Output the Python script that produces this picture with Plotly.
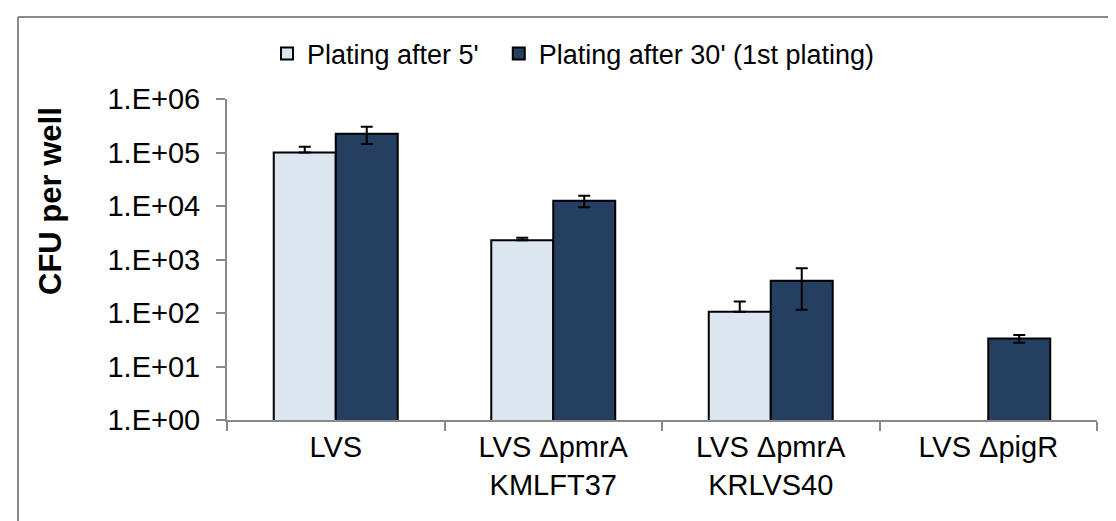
import plotly.graph_objects as go

categories = ["LVS", "LVS \u0394pmrA<br>KMLFT37", "LVS \u0394pmrA<br>KRLVS40", "LVS \u0394pigR"]
series_names = ["Plating after 5'\u00a0\u00a0", "Plating after 30' (1st plating)"]
after5 = [100000, 2300, 105, None]
after5_err_plus = [28000, 240, 59, None]
after30 = [224000, 12500, 400, 33.3]
after30_err = [80000, 3000, 285, 5.5]
tick_values = [1, 10, 100, 1000, 10000, 100000, 1000000]
tick_labels = ["1.E+00", "1.E+01", "1.E+02", "1.E+03", "1.E+04", "1.E+05", "1.E+06"]

FONT = "Liberation Sans, Arial, sans-serif"
GREY = "#898989"

fig = go.Figure()
fig.add_trace(go.Bar(
    x=categories, y=after5, name=series_names[0],
    marker=dict(color="#DCE6F1", line=dict(color="black", width=2)),
    error_y=dict(type="data", array=after5_err_plus,
                 arrayminus=[0, 0, 0, 0], symmetric=False,
                 color="black", thickness=2, width=6),
))
fig.add_trace(go.Bar(
    x=categories, y=after30, name=series_names[1],
    marker=dict(color="#243F60", line=dict(color="black", width=2)),
    error_y=dict(type="data", array=after30_err, symmetric=True,
                 color="black", thickness=2, width=6),
))

L, R, T, B = 219, 27, 91, 109
W, H = 1116, 521
PW, PH = W - L - R, H - T - B

def px(x):
    return (x - L) / PW

def py(y):
    return (H - B - y) / PH

fig.update_layout(
    width=W, height=H,
    margin=dict(l=L, r=R, t=T, b=B),
    paper_bgcolor="white", plot_bgcolor="white",
    barmode="group", bargap=0.43, bargroupgap=0,
    font=dict(family=FONT, size=27, color="black"),
    legend=dict(orientation="h", x=px(259), xanchor="left", y=py(46), yanchor="middle",
                font=dict(size=27, family=FONT), bgcolor="rgba(0,0,0,0)",
                traceorder="normal"),
    xaxis=dict(showline=True, linecolor=GREY, linewidth=2,
               ticks="outside", ticklen=9, tickcolor=GREY, tickwidth=2,
               tickson="boundaries", tickfont=dict(size=29, family=FONT),
               showgrid=False),
    yaxis=dict(type="log", range=[0, 6], showline=True, linecolor=GREY, linewidth=2,
               ticks="outside", ticklen=9, tickcolor=GREY, tickwidth=2,
               tickvals=tick_values, ticktext=tick_labels, ticklabelstandoff=10,
               tickfont=dict(size=29, family=FONT), showgrid=False,
               zeroline=False),
    showlegend=True,
)

fig.add_annotation(text="<b>CFU per well</b>", textangle=-90,
                   xref="paper", yref="paper", x=px(42), y=py(193),
                   xanchor="center", yanchor="middle", showarrow=False,
                   font=dict(size=31, family=FONT, color="black"))

# chart frame (top and left edges visible)
fig.add_shape(type="line", xref="paper", yref="paper",
              x0=px(10), x1=px(1125), y0=py(9), y1=py(9),
              line=dict(color=GREY, width=2))
fig.add_shape(type="line", xref="paper", yref="paper",
              x0=px(10), x1=px(10), y0=py(9), y1=py(530),
              line=dict(color=GREY, width=2))

fig.write_html("out.html")
